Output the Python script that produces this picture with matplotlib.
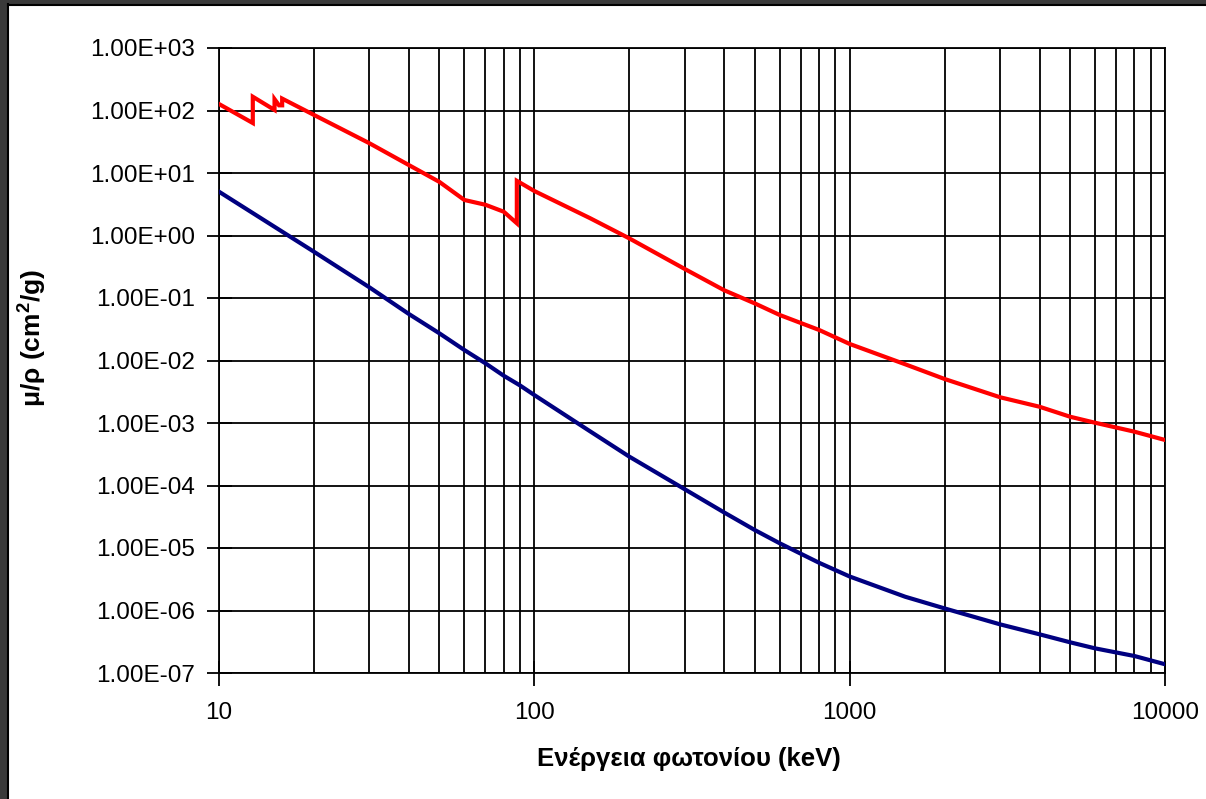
import matplotlib
matplotlib.use("Agg")
import matplotlib.pyplot as plt
from matplotlib.ticker import FixedLocator, FuncFormatter, LogLocator, NullFormatter
from matplotlib.patches import Rectangle

# Photon energy (keV) and mass photoelectric coefficients (cm^2/g)
red_energy = [10, 12.8, 12.8, 15.0, 15.0, 15.5, 15.86, 15.86, 20, 30, 40, 50, 60, 70, 80, 88.0, 88.0,
              100, 150, 200, 300, 400, 500, 600, 800, 1000, 1500, 2000, 3000, 4000, 5000, 6000, 8000, 10000]
red_mu = [127, 63, 166, 102, 152, 121, 121, 155, 85, 29.9, 13.4, 7.2, 3.7, 3.1, 2.4, 1.57, 7.5,
          5.15, 1.9, 0.90, 0.291, 0.133, 0.082, 0.0535, 0.0308, 0.0184, 0.0087, 0.00506, 0.00258,
          0.00182, 0.00126, 0.00101, 0.000726, 0.000535]

blue_energy = [10, 20, 30, 40, 50, 60, 70, 80, 90, 100, 150, 200, 300, 400, 500, 600, 800, 1000,
               1500, 2000, 3000, 4000, 5000, 6000, 8000, 10000]
blue_mu = [5.02, 0.55, 0.148, 0.0555, 0.0272, 0.0147, 0.0090, 0.0057, 0.0040, 0.0028, 7.4e-4, 2.9e-4,
           8.7e-5, 3.7e-5, 1.94e-5, 1.19e-5, 5.8e-6, 3.5e-6, 1.66e-6, 1.08e-6, 6.0e-7, 4.16e-7,
           3.1e-7, 2.48e-7, 1.87e-7, 1.38e-7]

x_ticks = [10, 100, 1000, 10000]
y_ticks = [1e-7, 1e-6, 1e-5, 1e-4, 1e-3, 1e-2, 1e-1, 1e0, 1e1, 1e2, 1e3]

x_label = "Ενέργεια φωτονίου (keV)"
y_label = "μ/ρ (cm$^{2}$/g)"

plt.rcParams['font.family'] = ['Liberation Sans', 'DejaVu Sans']
plt.rcParams['mathtext.fontset'] = 'custom'
plt.rcParams['mathtext.rm'] = 'Liberation Sans:bold'
plt.rcParams['mathtext.it'] = 'Liberation Sans:bold'
plt.rcParams['mathtext.bf'] = 'Liberation Sans:bold'
plt.rcParams['mathtext.default'] = 'rm'

fig = plt.figure(figsize=(12.06, 7.99), dpi=100)
fig.patch.set_facecolor('white')

W, H = 1206, 799
ax = fig.add_axes([219 / W, (H - 673) / H, (1165 - 219) / W, (673 - 48) / H])

ax.plot(red_energy, red_mu, color='#FF0000', lw=3.0, solid_joinstyle='miter', zorder=3)
ax.plot(blue_energy, blue_mu, color='#000080', lw=3.0, zorder=3)

ax.set_xscale('log')
ax.set_yscale('log')
ax.set_xlim(10, 10000)
ax.set_ylim(1e-7, 1e3)

ax.xaxis.set_major_locator(FixedLocator(x_ticks))
ax.xaxis.set_major_formatter(FuncFormatter(lambda v, p: f"{int(round(v))}"))
ax.xaxis.set_minor_locator(LogLocator(base=10, subs=range(2, 10)))
ax.xaxis.set_minor_formatter(NullFormatter())
ax.yaxis.set_major_locator(FixedLocator(y_ticks))
ax.yaxis.set_minor_locator(FixedLocator([]))
ax.yaxis.set_major_formatter(FuncFormatter(lambda v, p: f"{v:.2E}"))

ax.grid(True, which='major', axis='both', color='black', lw=1.3)
ax.grid(True, which='minor', axis='x', color='black', lw=1.3)
ax.set_axisbelow(True)

for sp in ax.spines.values():
    sp.set_color('black')
    sp.set_linewidth(1.3)

ax.tick_params(axis='both', which='major', direction='inout', length=18, width=1.3,
               labelsize=17.5, colors='black')
ax.tick_params(axis='x', which='major', pad=12)
ax.tick_params(axis='y', which='major', pad=8)
ax.tick_params(axis='x', which='minor', length=0)

ax.set_xlabel(x_label, fontsize=18.5, fontweight='bold', va='center', ha='center')
ax.xaxis.set_label_coords(0.497, -0.137)
ax.set_ylabel(y_label, fontsize=19, fontweight='bold', va='center', ha='center')
ax.yaxis.set_label_coords(-0.1966, 0.536)

# dark frame on left and top edges
fig.patches.append(Rectangle((0, 0), 7 / W, 1, transform=fig.transFigure, facecolor='#3a3a3a',
                             edgecolor='none', zorder=10))
fig.patches.append(Rectangle((0, 1 - 4 / H), 1, 4 / H, transform=fig.transFigure, facecolor='#3a3a3a',
                             edgecolor='none', zorder=10))
fig.lines.append(plt.Line2D([7.5 / W, 7.5 / W], [0, 1 - 4 / H], transform=fig.transFigure,
                            color='black', lw=1.5, zorder=11))
fig.lines.append(plt.Line2D([7.5 / W, 1], [1 - 4.5 / H, 1 - 4.5 / H], transform=fig.transFigure,
                            color='black', lw=1.5, zorder=11))

fig.savefig('out.png', dpi=100, facecolor='white')
